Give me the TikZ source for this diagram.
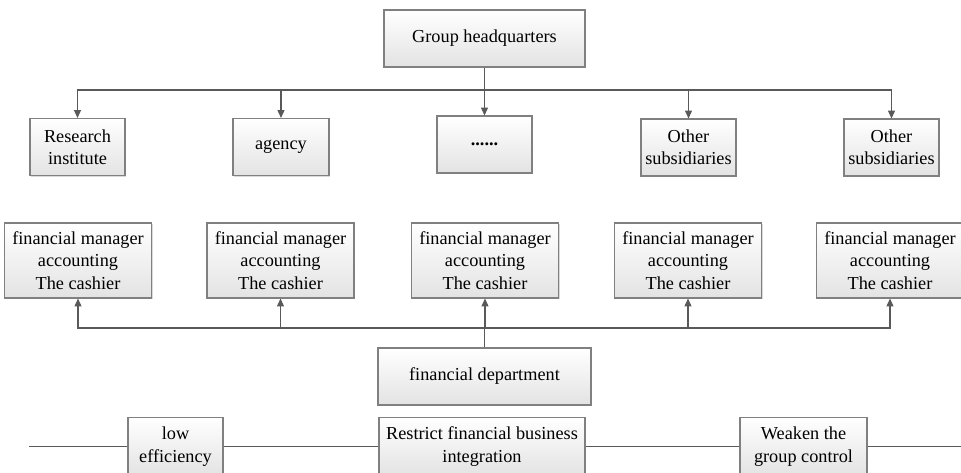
\documentclass[tikz,border=0pt]{standalone}
\usepackage{fontspec}
\setmainfont{Liberation Serif}
\usepackage{tikz}
\usetikzlibrary{shapes,arrows.meta,positioning,shadows}

\begin{document}
\begin{tikzpicture}[
    x=0.02cm, y=-0.02cm,
    unit/.style={rectangle, draw=black!50, line width=0.6pt, top color=white, bottom color=black!11,
        drop shadow={shadow xshift=0.8pt, shadow yshift=-0.8pt, fill=black!25, opacity=0.6},
        align=center, inner sep=1pt, minimum height=1.14cm, font=\fontsize{10.4}{12.7}\selectfont},
    staff/.style={unit, minimum height=1.5cm, minimum width=2.94cm},
    arrow/.style={-{Triangle[length=4.5pt,width=4pt]}, line width=0.6pt, black!65},
    link/.style={line width=0.6pt, black!65}
]
    \useasboundingbox (0,0) rectangle (961,473);
    \clip (0,0) rectangle (961,473);

    % top level
    \node[unit, minimum width=4.02cm] (hq) at (484.5,38.5) {Group headquarters};
    \coordinate (topbus) at (484.5,90);

    % units under the group
    \node[unit, minimum width=1.9cm] (institute) at (77.5,147) {Research\\institute};
    \node[unit, minimum width=1.92cm] (agency) at (281,147) {agency};
    \node[unit, minimum width=1.9cm] (more) at (484.5,144.5) {\textbf{......}};
    \node[unit, minimum width=1.9cm] (sub1) at (688.5,147.5) {Other\\subsidiaries};
    \node[unit, minimum width=1.9cm] (sub2) at (891.5,147.5) {Other\\subsidiaries};

    % financial staff of each unit
    \node[staff] (fin1) at (78,260.5) {financial manager\\accounting\\The cashier};
    \node[staff] (fin2) at (280.5,260.5) {financial manager\\accounting\\The cashier};
    \node[staff] (fin3) at (485,260.5) {financial manager\\accounting\\The cashier};
    \node[staff] (fin4) at (688,260.5) {financial manager\\accounting\\The cashier};
    \node[staff] (fin5) at (890,260.5) {financial manager\\accounting\\The cashier};

    \coordinate (botbus) at (484.5,328);
    \node[unit, minimum width=4.26cm] (findept) at (484.5,376.5) {financial department};

    % consequences
    \coordinate (lineL) at (29,446.5);
    \coordinate (lineR) at (961,446.5);
    \node[unit, minimum width=1.9cm, minimum height=1.16cm] (loweff) at (175.5,446.5) {low\\efficiency};
    \node[unit, minimum width=4.12cm, minimum height=1.16cm] (restrict) at (482,446.5) {Restrict financial business\\integration};
    \node[unit, minimum width=2.54cm, minimum height=1.16cm] (weaken) at (803.5,446.5) {Weaken the\\group control};

    \draw[link] (hq) -- (topbus);
    \foreach \n in {institute,agency,more,sub1,sub2}
        \draw[arrow] (topbus) -| (\n.north);

    \draw[link] (findept) -- (botbus);
    \foreach \n in {fin1,fin2,fin3,fin4,fin5}
        \draw[arrow] (botbus) -| (\n.south);

    \draw[link] (lineL) -- (loweff) -- (restrict) -- (weaken) -- (lineR);
\end{tikzpicture}
\end{document}
